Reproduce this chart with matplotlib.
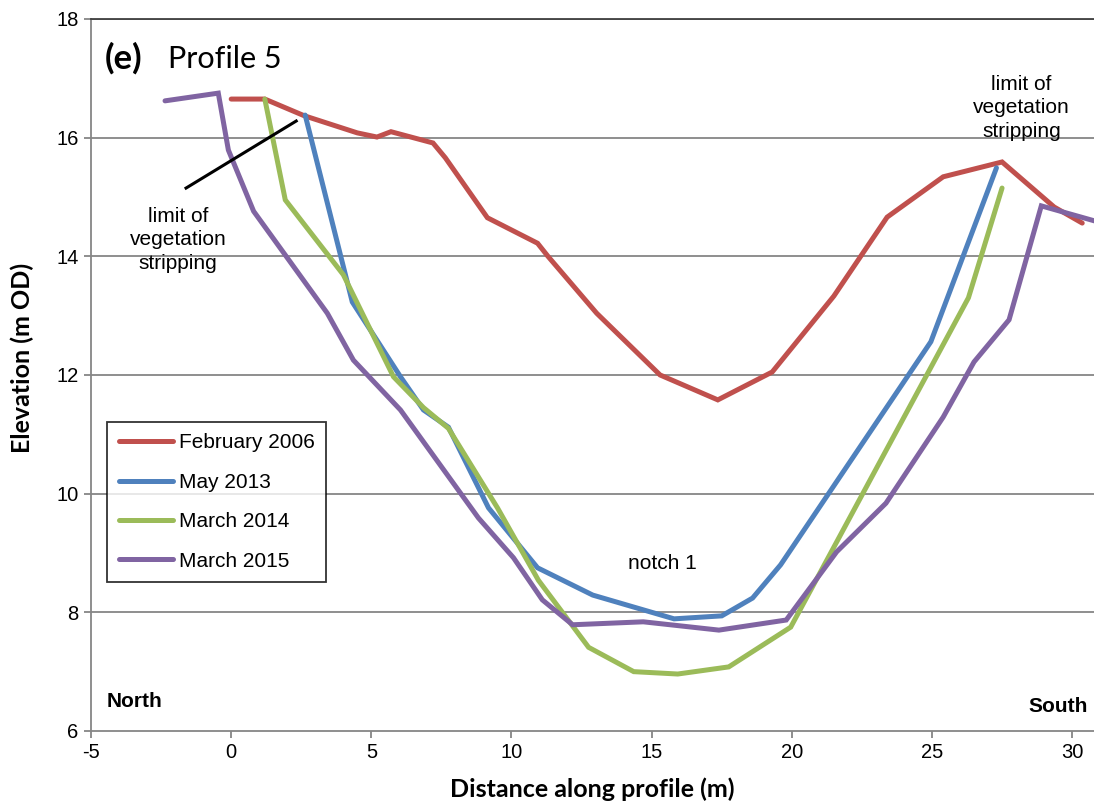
import matplotlib
matplotlib.use("Agg")
import matplotlib.pyplot as plt

# profile data (distance m, elevation m OD)
feb2006_x = [0.0, 1.2, 2.6, 4.5, 5.2, 5.7, 7.2, 7.64, 9.14, 10.93, 11.3, 13.04, 15.3, 17.36, 19.3, 21.5, 23.4, 25.4, 27.5, 29.36, 30.36]
feb2006_y = [16.65, 16.65, 16.37, 16.08, 16.01, 16.1, 15.91, 15.66, 14.65, 14.22, 14.0, 13.04, 12.0, 11.58, 12.05, 13.33, 14.66, 15.34, 15.59, 14.83, 14.56]

may2013_x = [2.64, 4.32, 6.04, 6.86, 7.75, 9.18, 10.93, 12.9, 15.8, 17.5, 18.6, 19.6, 24.96, 27.3]
may2013_y = [16.38, 13.23, 11.97, 11.41, 11.12, 9.76, 8.75, 8.29, 7.89, 7.94, 8.24, 8.8, 12.56, 15.49]

mar2014_x = [1.2, 1.93, 4.0, 5.79, 6.86, 7.75, 9.5, 10.96, 12.75, 14.36, 15.93, 17.75, 19.96, 26.3, 27.5]
mar2014_y = [16.65, 14.95, 13.69, 11.97, 11.45, 11.1, 9.76, 8.54, 7.41, 7.0, 6.96, 7.08, 7.75, 13.3, 15.15]

mar2015_x = [-2.36, -0.46, -0.1, 0.8, 3.43, 4.36, 6.04, 8.82, 10.07, 11.1, 12.18, 14.7, 17.4, 19.8, 21.6, 23.36, 25.4, 26.5, 27.75, 28.9, 31.0]
mar2015_y = [16.62, 16.75, 15.79, 14.76, 13.04, 12.25, 11.41, 9.59, 8.92, 8.21, 7.79, 7.84, 7.7, 7.87, 9.02, 9.84, 11.29, 12.22, 12.93, 14.85, 14.57]

series = [
    ("February 2006", feb2006_x, feb2006_y, "#C0504D"),
    ("May 2013", may2013_x, may2013_y, "#4F81BD"),
    ("March 2014", mar2014_x, mar2014_y, "#9BBB59"),
    ("March 2015", mar2015_x, mar2015_y, "#8064A2"),
]

xticks = [-5, 0, 5, 10, 15, 20, 25, 30]
yticks = [6, 8, 10, 12, 14, 16, 18]

plt.rcParams['font.family'] = ['Liberation Sans', 'DejaVu Sans']
plt.rcParams['axes.unicode_minus'] = False

fig = plt.figure(figsize=(10.94, 8.07), dpi=100)
ax = fig.add_axes([0.0832, 0.0942, 0.9168, 0.8823])

grid_col = "#868686"
for y in yticks[1:]:
    ax.axhline(y, color=grid_col, lw=1.3, zorder=1)

for name, xs, ys, col in series:
    ax.plot(xs, ys, color=col, lw=3.6, label=name, solid_capstyle='round',
            solid_joinstyle='miter', zorder=3)

ax.set_xlim(-5, 30.78)
ax.set_ylim(6, 18)
ax.set_xticks(xticks)
ax.set_yticks(yticks)
ax.tick_params(labelsize=14.5, length=5, width=1.3, color=grid_col, pad=4)

for s in ['left', 'bottom', 'top']:
    ax.spines[s].set_color(grid_col)
    ax.spines[s].set_linewidth(1.3)
ax.spines['top'].set_color("#404040")
ax.spines['right'].set_visible(False)

ax.set_xlabel("Distance along profile (m)", fontsize=18, fontweight='bold',
              family='Lato', labelpad=11)
ax.set_ylabel("Elevation (m OD)", fontsize=18, fontweight='bold',
              family='Lato')
ax.yaxis.set_label_coords(-0.057, 0.524)

# panel title
ax.text(-4.5, 17.33, "(e)", fontsize=25, fontweight='bold', family='Lato',
        ha='left', va='center')
ax.text(-2.25, 17.33, "Profile 5", fontsize=22, family='Lato',
        ha='left', va='center')

# annotations
ax.plot([-1.61, 2.32], [15.15, 16.28], color='black', lw=2.2, zorder=4)
ax.text(-1.9, 14.28, "limit of\nvegetation\nstripping", fontsize=15,
        ha='center', va='center', linespacing=1.3)
ax.text(28.2, 16.5, "limit of\nvegetation\nstripping", fontsize=15,
        ha='center', va='center', linespacing=1.3)
ax.text(15.4, 8.83, "notch 1", fontsize=15, ha='center', va='center')
ax.text(-4.43, 6.5, "North", fontsize=15, fontweight='bold', ha='left', va='center')
ax.text(30.57, 6.42, "South", fontsize=15, fontweight='bold', ha='right', va='center')

leg = ax.legend(loc='upper left', bbox_to_anchor=(0.016, 0.434), fontsize=15,
                frameon=True, fancybox=False, edgecolor='black', handlelength=2.6,
                handletextpad=0.3, labelspacing=0.98, borderpad=0.55,
                borderaxespad=0)
leg.get_frame().set_linewidth(1.3)

fig.savefig("out.png", dpi=100)
